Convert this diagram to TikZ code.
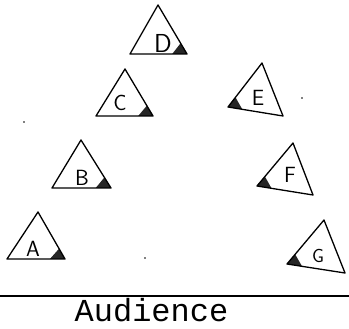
\documentclass[tikz,border=0pt]{standalone}
\usepackage{fontspec}
\newfontfamily\audfont{Liberation Mono}
\usetikzlibrary{calc}
\tikzset{
  tri/.style={draw=black, line width=1.3pt, line join=round},
  cornershade/.style={fill=black!85},
  lbl/.style={font=\sffamily\fontsize{22}{22}\selectfont, inner sep=0pt},
  speck/.style={fill=black, inner sep=0pt, minimum size=1.8pt, circle}
}
\newcommand\stagetri[5]{%
  % #1 name, #2 apex, #3 left, #4 right, #5 shaded corner (l or r)
  \coordinate (#1t) at #2;
  \coordinate (#1l) at #3;
  \coordinate (#1r) at #4;
  \ifx l#5
    \fill[cornershade] (#1l) -- ($(#1l)!0.26!(#1r)$) -- ($(#1l)!0.22!(#1t)$) -- cycle;
  \else
    \fill[cornershade] (#1r) -- ($(#1r)!0.26!(#1l)$) -- ($(#1r)!0.22!(#1t)$) -- cycle;
  \fi
  \draw[tri] (#1t) -- (#1l) -- (#1r) -- cycle;
}
\begin{document}
\begin{tikzpicture}[x=1pt,y=-1pt]
\useasboundingbox (0,0) rectangle (349,329);
\stagetri{D}{(158,5)}{(130,54)}{(187,54)}{r}
\stagetri{C}{(125,69)}{(96,116)}{(153,116)}{r}
\stagetri{E}{(262,63)}{(228,107)}{(283,116)}{l}
\stagetri{B}{(81,140)}{(52,188)}{(111,188)}{r}
\stagetri{F}{(293,143)}{(257,186)}{(313,195)}{l}
\stagetri{A}{(38,212)}{(7,259)}{(65,259)}{r}
\stagetri{G}{(324,220)}{(287,264)}{(345,273)}{l}
\node[lbl, font=\sffamily\fontsize{26}{26}\selectfont] (lD) at (163,43) {D};
\node[lbl] (lC) at (120,103) {C};
\node[lbl] (lE) at (258,98) {E};
\node[lbl] (lB) at (82,178) {B};
\node[lbl] (lF) at (290,175) {F};
\node[lbl] (lA) at (33,249) {A};
\node[lbl, font=\sffamily\fontsize{19}{19}\selectfont] (lG) at (318,256) {G};
\node[speck] (s1) at (24,122) {};
\node[speck] (s2) at (302,98) {};
\node[speck] (s3) at (145,258) {};
\coordinate (stageL) at (0,296);
\coordinate (stageR) at (349,296);
\draw[line width=2pt] (stageL) -- (stageR);
\node[font=\audfont\fontsize{32}{32}\selectfont, anchor=base, inner sep=0pt] (aud) at (151.5,322) {Audience};
\end{tikzpicture}
\end{document}
